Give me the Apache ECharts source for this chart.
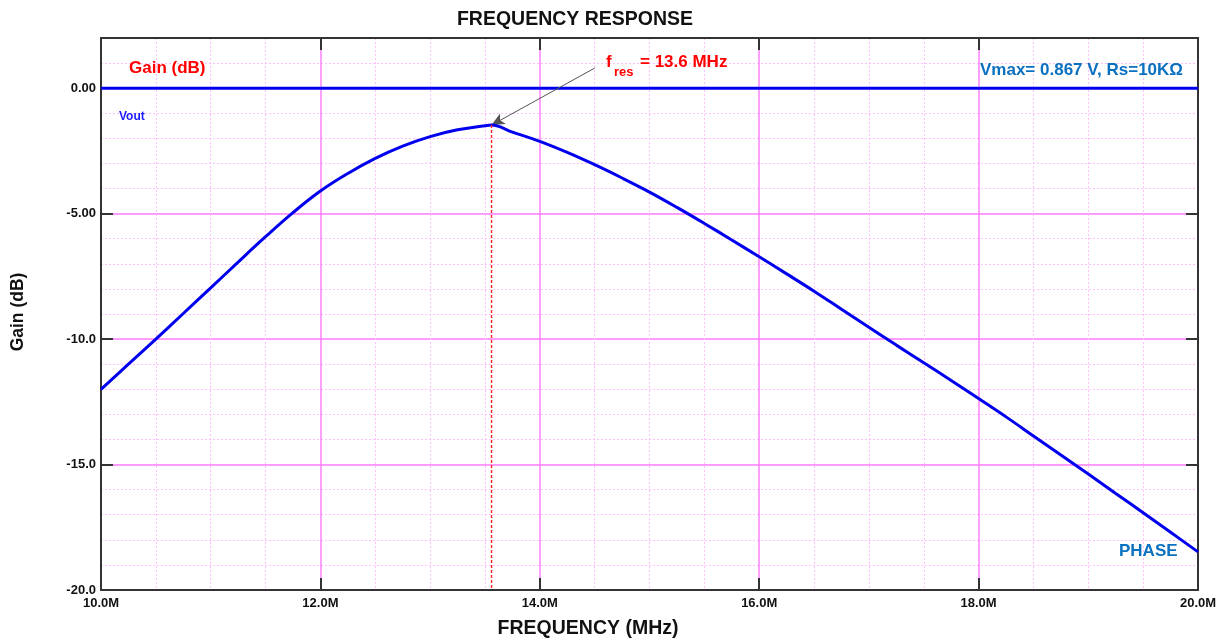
<!DOCTYPE html>
<html>
<head>
<meta charset="utf-8">
<script src="https://cdn.jsdelivr.net/npm/echarts@6/dist/echarts.min.js"></script>
<style>
  html, body { margin: 0; padding: 0; background: #ffffff; }
  #chart { width: 1231px; height: 643px; }
</style>
</head>
<body>
<div id="chart"></div>
<script>
// ---- data ----
const freqMHz = [10.00, 10.25, 10.50, 10.75, 11.00, 11.25, 11.50, 11.75, 12.00, 12.25, 12.50, 12.75,
                 13.00, 13.25, 13.50, 13.56, 13.75, 14.00, 14.25, 14.50, 14.75, 15.00, 15.25, 15.50,
                 15.75, 16.00, 16.25, 16.50, 16.75, 17.00, 17.25, 17.50, 17.75, 18.00, 18.25, 18.50,
                 18.75, 19.00, 19.25, 19.50, 19.75, 20.00];
const gainDb  = [-12.00, -11.00, -10.00, -8.98, -7.96, -6.93, -5.92, -4.96, -4.10, -3.40, -2.80, -2.31,
                 -1.93, -1.66, -1.50, -1.47, -1.75, -2.12, -2.56, -3.05, -3.58, -4.14, -4.75, -5.39,
                 -6.05, -6.72, -7.40, -8.09, -8.81, -9.53, -10.24, -10.94, -11.65, -12.37, -13.10, -13.86,
                 -14.62, -15.38, -16.15, -16.92, -17.70, -18.48];
const refLevelX = [10, 20];
const refLevelDb = [0, 0];
const xTickValues = [10, 12, 14, 16, 18, 20];
const xTickLabels = ['10.0M', '12.0M', '14.0M', '16.0M', '18.0M', '20.0M'];
const yTickValues = [0, -5, -10, -15, -20];
const yTickLabels = ['0.00', '-5.00', '-10.0', '-15.0', '-20.0'];
const resonanceMHz = 13.56;
const resonanceGainDb = -1.47;
const arrowTail = [14.5, 0.8];

// ---- styles ----
const FONT = '"Liberation Sans", Arial, Helvetica, sans-serif';
const MAJOR = '#ff80ff';
const MINOR = '#ffbfff';
const AXIS = '#333333';

function lookup(values, labels, v) {
  const i = values.findIndex(t => Math.abs(t - v) < 1e-9);
  return i >= 0 ? labels[i] : '';
}

const chart = echarts.init(document.getElementById('chart'), null, { renderer: 'canvas' });

function txt(x, y, text, font, fill, align, extra) {
  return Object.assign({
    type: 'text', x: x, y: y, z: 100, zlevel: 0, silent: true,
    style: { text: text, align: align || 'left', verticalAlign: 'middle', font: font, fill: fill }
  }, extra || {});
}

const option = {
  animation: false,
  backgroundColor: '#ffffff',
  color: ['#ff0000', '#0000ee', '#0000ee'],
  grid: { left: 101, right: 33, top: 38, bottom: 53, containLabel: false },
  xAxis: [
    {
      type: 'value', position: 'bottom', min: 10, max: 20, interval: 2,
      axisLine: { show: true, onZero: false, lineStyle: { color: AXIS, width: 2 } },
      axisTick: { show: true, inside: true, length: 12, lineStyle: { color: AXIS, width: 2 } },
      axisLabel: {
        margin: 7, color: '#111', fontFamily: FONT, fontWeight: 'bold', fontSize: 13,
        formatter: v => lookup(xTickValues, xTickLabels, v)
      },
      splitLine: { show: true, lineStyle: { color: MAJOR, width: 1.5 } },
      minorTick: { show: false, splitNumber: 4 },
      minorSplitLine: { show: true, lineStyle: { color: MINOR, width: 1, type: [2, 2] } }
    },
    {
      type: 'value', position: 'top', min: 10, max: 20, interval: 2,
      axisLine: { show: true, onZero: false, lineStyle: { color: AXIS, width: 2 } },
      axisTick: { show: true, inside: true, length: 12, lineStyle: { color: AXIS, width: 2 } },
      axisLabel: { show: false },
      splitLine: { show: false }
    }
  ],
  yAxis: [
    { // minor grid (1 dB steps)
      type: 'value', position: 'left', min: -20, max: 2, interval: 1,
      axisLine: { show: false }, axisTick: { show: false }, axisLabel: { show: false },
      splitLine: { show: true, lineStyle: { color: MINOR, width: 1, type: [2, 2] } }
    },
    {
      type: 'value', position: 'left', min: -20, max: 2, interval: 5,
      axisLine: { show: true, onZero: false, lineStyle: { color: AXIS, width: 2 } },
      axisTick: { show: true, inside: true, length: 12, lineStyle: { color: AXIS, width: 2 } },
      axisLabel: {
        margin: 5, color: '#111', fontFamily: FONT, fontWeight: 'bold', fontSize: 13,
        formatter: v => lookup(yTickValues, yTickLabels, v)
      },
      splitLine: { show: true, lineStyle: { color: MAJOR, width: 1.5 } }
    },
    {
      type: 'value', position: 'right', min: -20, max: 2, interval: 5,
      axisLine: { show: true, onZero: false, lineStyle: { color: AXIS, width: 2 } },
      axisTick: { show: true, inside: true, length: 12, lineStyle: { color: AXIS, width: 2 } },
      axisLabel: { show: false },
      splitLine: { show: false }
    }
  ],
  graphic: [
    txt(575, 20, 'FREQUENCY RESPONSE', 'bold 19.5px ' + FONT, '#111', 'center'),
    txt(588, 629, 'FREQUENCY (MHz)', 'bold 19.5px ' + FONT, '#111', 'center'),
    txt(18, 312, 'Gain (dB)', 'bold 17.5px ' + FONT, '#111', 'center', { rotation: Math.PI / 2 }),
    txt(129, 68, 'Gain (dB)', 'bold 17px ' + FONT, '#ff0000'),
    txt(119, 117, 'Vout', 'bold 12px ' + FONT, '#1a1aff'),
    txt(980, 70, 'Vmax= 0.867 V, Rs=10KΩ', 'bold 17px ' + FONT, '#0a70c0'),
    txt(1119, 551, 'PHASE', 'bold 17px ' + FONT, '#0a70c0'),
    txt(606, 62, 'f', 'bold 17px ' + FONT, '#ff0000'),
    txt(614, 72, 'res', 'bold 13px ' + FONT, '#ff0000'),
    txt(640, 62, '= 13.6 MHz', 'bold 17px ' + FONT, '#ff0000')
  ],
  series: [
    {
      name: 'ResonanceMarker', type: 'line', xAxisIndex: 0, yAxisIndex: 1,
      data: [[resonanceMHz, resonanceGainDb], [resonanceMHz, -20]],
      showSymbol: false, silent: true,
      itemStyle: { color: '#ff2020' },
      lineStyle: { color: '#ff2020', width: 1.4, type: [3, 2], opacity: 1 },
      emphasis: { disabled: true },
      z: 6
    },
    {
      name: 'Vout', type: 'line', xAxisIndex: 0, yAxisIndex: 1,
      data: freqMHz.map((f, i) => [f, gainDb[i]]),
      showSymbol: false, smooth: 0.4,
      itemStyle: { color: '#0000ee' },
      lineStyle: { color: '#0000ee', width: 3 },
      z: 5
    },
    {
      name: 'Ref', type: 'line', xAxisIndex: 0, yAxisIndex: 1,
      data: refLevelX.map((x, i) => [x, refLevelDb[i]]),
      showSymbol: false,
      itemStyle: { color: '#0000ee' },
      lineStyle: { color: '#0000ee', width: 3 },
      z: 4,
      markLine: {
        silent: true, symbol: ['none', 'arrow'], symbolSize: [9, 13], label: { show: false },
        lineStyle: { color: '#555555', width: 1, type: 'solid' },
        data: [[{ coord: arrowTail }, { coord: [resonanceMHz, resonanceGainDb] }]]
      }
    }
  ]
};

chart.setOption(option);
</script>
</body>
</html>
